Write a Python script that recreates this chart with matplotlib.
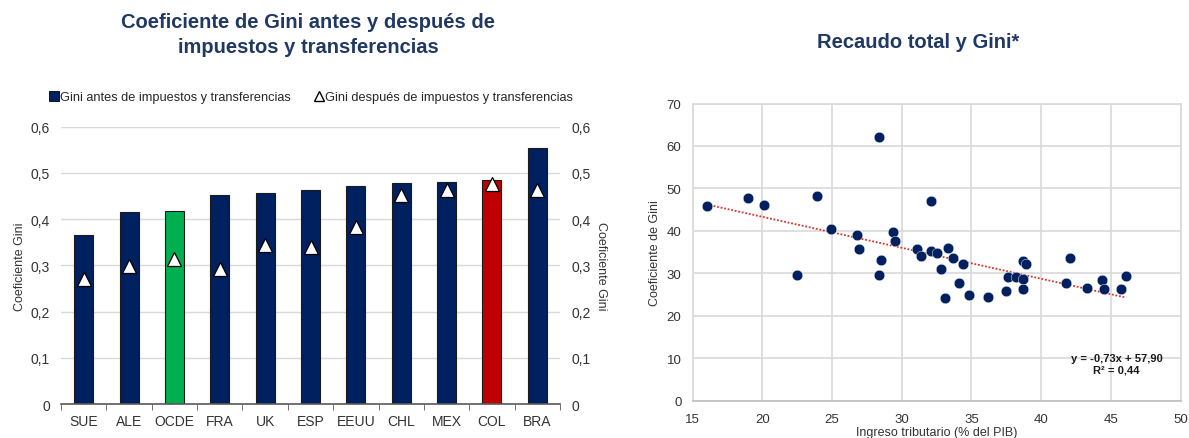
import numpy as np
import matplotlib
matplotlib.use('Agg')
import matplotlib.pyplot as plt
from matplotlib.lines import Line2D

# datos panel izquierdo
paises = ['SUE', 'ALE', 'OCDE', 'FRA', 'UK', 'ESP', 'EEUU', 'CHL', 'MEX', 'COL', 'BRA']
gini_antes = [0.365, 0.416, 0.418, 0.453, 0.457, 0.463, 0.471, 0.478, 0.481, 0.485, 0.555]
gini_despues = [0.270, 0.298, 0.313, 0.292, 0.345, 0.340, 0.383, 0.452, 0.463, 0.476, 0.463]

# datos panel derecho (ingreso tributario % PIB, Gini)
ingreso = [16.0, 19.0, 20.1, 22.5, 23.9, 24.9, 26.8, 26.9, 28.4, 28.4,
           28.5, 29.4, 29.5, 31.1, 31.4, 32.1, 32.1, 32.5, 32.8, 33.1,
           33.3, 33.7, 34.1, 34.4, 34.8, 36.2, 37.5, 37.6, 38.2, 38.7,
           38.7, 38.7, 38.9, 41.8, 42.1, 43.3, 44.4, 44.5, 45.7, 46.1]
gini = [45.9, 47.7, 46.1, 29.6, 48.1, 40.5, 39.1, 35.6, 62.1, 29.7,
        33.2, 39.7, 37.5, 35.8, 34.0, 47.1, 35.2, 34.7, 31.1, 24.1,
        36.0, 33.5, 27.7, 32.2, 24.9, 24.4, 25.7, 29.0, 29.0, 28.6,
        26.3, 32.9, 32.1, 27.6, 33.6, 26.6, 28.3, 26.3, 26.2, 29.4]
pendiente = -0.73
intercepto = 57.90
r2 = 0.44

navy = '#002060'
titulo_color = '#1f3864'
grid_color = '#d9d9d9'

plt.rcParams['font.family'] = ['Liberation Sans', 'DejaVu Sans']

fig = plt.figure(figsize=(11.89, 4.39), dpi=100)

# ---- panel izquierdo: barras ----
ax = fig.add_axes([0.0513, 0.0774, 0.4197, 0.6317])
x = np.arange(len(paises))
colores = [navy] * len(paises)
colores[paises.index('OCDE')] = '#00b050'
colores[paises.index('COL')] = '#c00000'
ax.bar(x, gini_antes, width=0.42, color=colores, edgecolor='#1a1a1a', linewidth=0.8, zorder=2)
ax.plot(x, gini_despues, linestyle='none', marker='^', markersize=10,
        markerfacecolor='white', markeredgecolor='black', markeredgewidth=0.9, zorder=3)

ax.set_xlim(-0.5, len(paises) - 0.5)
ax.set_ylim(0, 0.6)
ax.set_yticks([0, 0.1, 0.2, 0.3, 0.4, 0.5, 0.6])
ax.set_yticklabels(['0', '0,1', '0,2', '0,3', '0,4', '0,5', '0,6'])
ax.yaxis.grid(True, color=grid_color, linewidth=1)
ax.set_axisbelow(True)
ax.set_xticks(x)
ax.set_xticklabels(paises)
ax.set_xticks(np.arange(len(paises) + 1) - 0.5, minor=True)
ax.tick_params(axis='x', which='major', length=0, pad=7, labelsize=10, labelcolor='#333333')
ax.tick_params(axis='x', which='minor', length=4, color='#595959')
ax.tick_params(axis='y', length=0, pad=8, labelsize=10, labelcolor='#333333')
for s in ['top', 'left', 'right']:
    ax.spines[s].set_visible(False)
ax.spines['bottom'].set_color('#595959')
ax.spines['bottom'].set_linewidth(1.2)
ax.set_ylabel('Coeficiente Gini', fontsize=9, color='#333333', labelpad=3)

ax2 = ax.twinx()
ax2.set_ylim(0, 0.6)
ax2.set_yticks([0, 0.1, 0.2, 0.3, 0.4, 0.5, 0.6])
ax2.set_yticklabels(['0', '0,1', '0,2', '0,3', '0,4', '0,5', '0,6'])
ax2.tick_params(axis='y', length=0, pad=8, labelsize=10, labelcolor='#333333')
for s in ['top', 'left', 'right', 'bottom']:
    ax2.spines[s].set_visible(False)
ax2.set_ylabel('Coeficiente Gini', fontsize=9, color='#333333', rotation=270, labelpad=12)

fig.text(308 / 1189, 1 - 35 / 439,
         'Coeficiente de Gini antes y después de\nimpuestos y transferencias',
         ha='center', va='center', fontsize=14.5, fontweight='bold',
         color=titulo_color, linespacing=1.35)

handles = [Line2D([], [], linestyle='none', marker='s', markersize=7.5,
                  markerfacecolor=navy, markeredgecolor='black', markeredgewidth=0.6),
           Line2D([], [], linestyle='none', marker='^', markersize=7.5,
                  markerfacecolor='white', markeredgecolor='black', markeredgewidth=1.0)]
fig.legend(handles, ['Gini antes de impuestos y transferencias',
                     'Gini después de impuestos y transferencias'],
           loc='center', bbox_to_anchor=(311 / 1189, 1 - 98 / 439), ncol=2,
           frameon=False, fontsize=9.2, handlelength=0.8, handletextpad=0.1,
           columnspacing=1.8, labelcolor='#262626')

# ---- panel derecho: dispersión ----
bx = fig.add_axes([0.5825, 0.0854, 0.4104, 0.6765])
bx.scatter(ingreso, gini, s=58, color=navy, edgecolor='white', linewidth=0.3, zorder=3)
xs = np.array([min(ingreso), max(ingreso)])
bx.plot(xs, pendiente * xs + intercepto, color='#e0302a', linewidth=1.3,
        linestyle=(0, (1, 1)), zorder=2)
bx.set_xlim(15, 50)
bx.set_ylim(0, 70)
bx.set_xticks(range(15, 51, 5))
bx.set_yticks(range(0, 71, 10))
bx.grid(True, color=grid_color, linewidth=1.2)
bx.set_axisbelow(True)
for s in ['top', 'right', 'left']:
    bx.spines[s].set_color(grid_color)
    bx.spines[s].set_linewidth(1.2)
bx.spines['bottom'].set_color('#bfbfbf')
bx.spines['bottom'].set_linewidth(1.2)
bx.tick_params(length=0, labelsize=9.5, labelcolor='#333333')
bx.tick_params(axis='x', pad=9)
bx.tick_params(axis='y', pad=8)
bx.set_ylabel('Coeficiente de Gini', fontsize=9, color='#333333', labelpad=4)
bx.set_xlabel('Ingreso tributario (% del PIB)', fontsize=9, color='#333333', labelpad=1)
ec = ('y = ' + ('%.2f' % pendiente).replace('.', ',') + 'x + ' +
      ('%.2f' % intercepto).replace('.', ',') + '\nR² = ' + ('%.2f' % r2).replace('.', ','))
bx.text(45.4, 8.6, ec, ha='center', va='center', fontsize=8, fontweight='bold',
        color='#1a1a1a', linespacing=1.2, multialignment='center')

fig.text(918 / 1189, 1 - 43 / 439, 'Recaudo total y Gini*', ha='center', va='center',
         fontsize=14.5, fontweight='bold', color=titulo_color)

fig.savefig('out.png', dpi=100)
